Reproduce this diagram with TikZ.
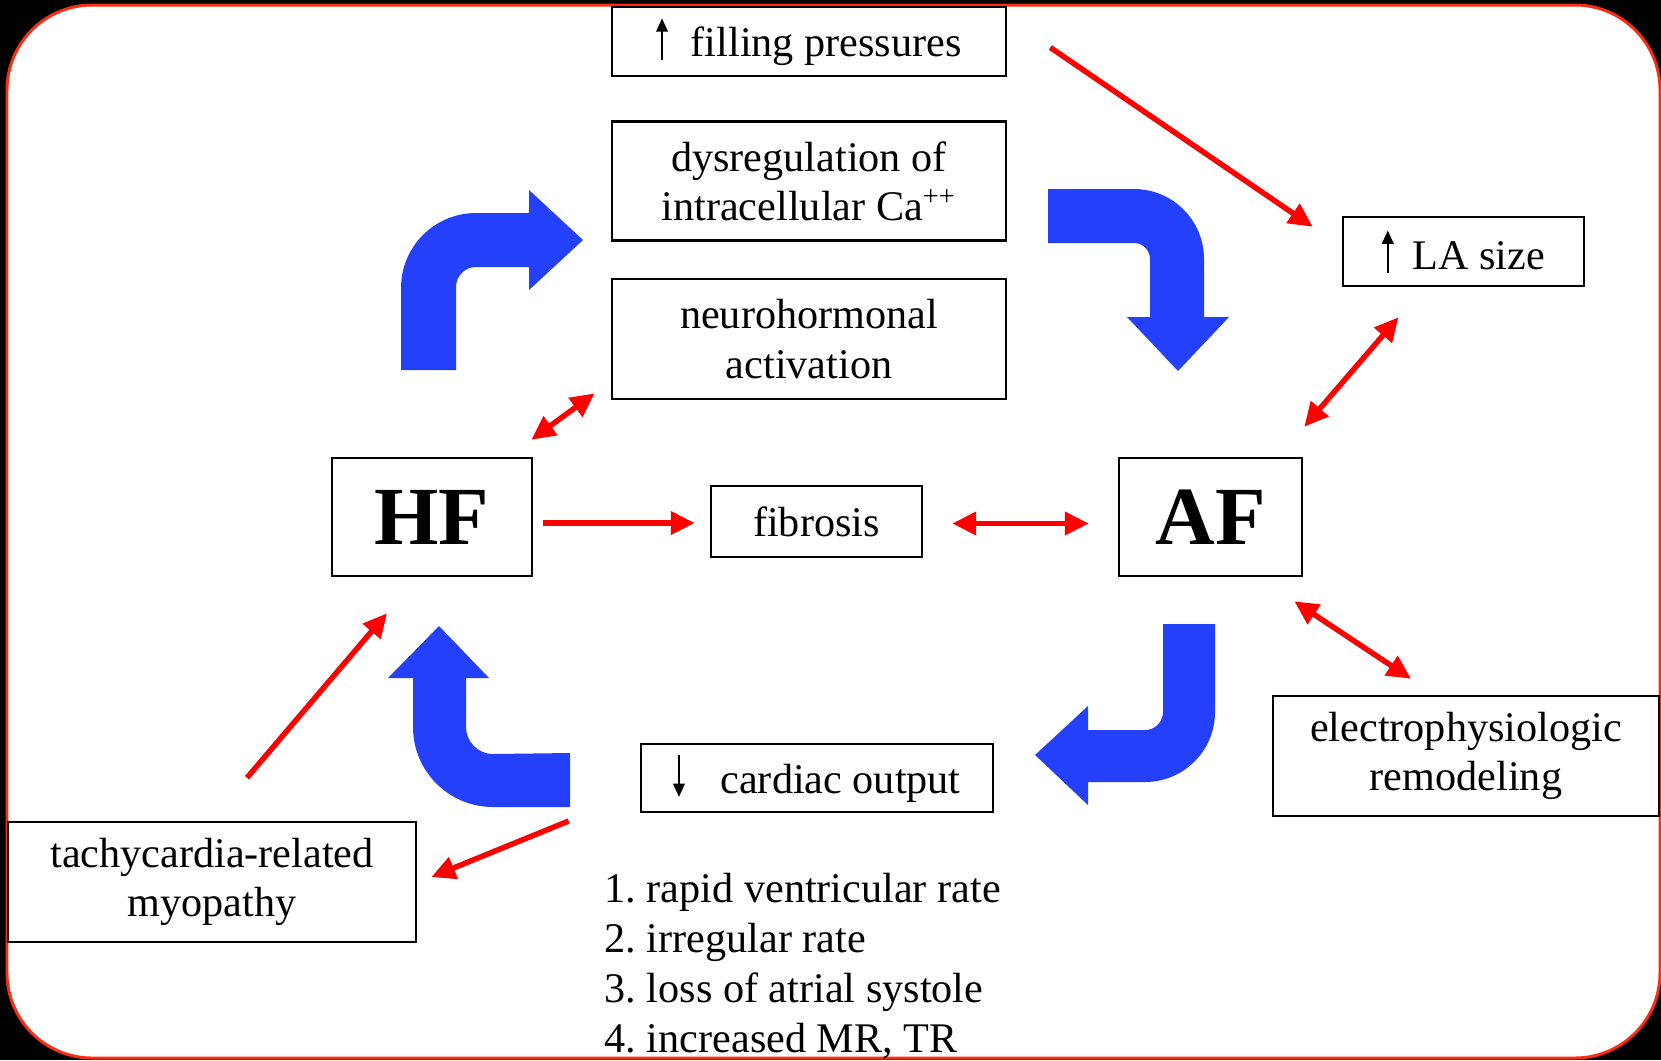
\documentclass[tikz,border=0pt]{standalone}
\usepackage{fontspec}
\setmainfont{Liberation Serif}
\usetikzlibrary{arrows.meta,positioning,calc}
\definecolor{flowblue}{RGB}{36,64,250}
\definecolor{framered}{RGB}{250,45,20}
\newcommand{\uparr}{\tikz[baseline=0pt]\draw[-{Triangle[length=3.8pt,width=3.2pt]}, line width=0.75pt] (0pt,-1pt) -- (0pt,11pt);}
\newcommand{\downarr}{\tikz[baseline=0pt]\draw[-{Triangle[length=3.8pt,width=3.2pt]}, line width=0.75pt] (0pt,11pt) -- (0pt,-1pt);}
\tikzset{
    block/.style={
        draw,
        rectangle,
        line width=0.7pt,
        fill=white,
        align=center,
        inner sep=0pt,
        font=\fontsize{12}{14}\selectfont
    },
    bigblock/.style={
        block,
        font=\fontsize{23.5}{28}\selectfont\bfseries
    },
    link/.style={
        draw=red,
        line width=1.55pt
    },
    turn/.style={
        fill=flowblue
    },
}

\begin{document}
\frenchspacing
\begin{tikzpicture}[x=0.01cm, y=-0.01cm, >={Triangle[length=6.8pt,width=6.4pt]}]
    % frame
    \useasboundingbox (0,0) rectangle (1661,1060);
    \fill[black] (0,0) rectangle (1661,1060);
    \draw[framered, fill=white, line width=0.85pt, rounded corners=0.85cm] (7,5) rectangle (1660,1058);

    % blocks
    \node[block, minimum width=3.94cm, minimum height=0.69cm] (pressure) at (809,41.5) {\uparr\hspace{0.55em}filling pressures};
    \node[block, minimum width=3.94cm, minimum height=1.19cm, below=0.43cm of pressure] (calcium) {dysregulation of\\intracellular Ca\textsuperscript{++}};
    \node[block, minimum width=3.94cm, minimum height=1.20cm, below=0.36cm of calcium] (neuro) {neurohormonal\\activation};
    \node[block, minimum width=2.41cm, minimum height=0.69cm] (lasize) at (1463.5,251.5) {\uparr\hspace{0.45em}LA size};
    \node[bigblock, minimum width=2.00cm, minimum height=1.18cm] (HF) at (432,517) {HF};
    \node[block, minimum width=2.11cm, minimum height=0.71cm] (fib) at (816.5,521.5) {fibrosis};
    \node[bigblock, minimum width=1.83cm, minimum height=1.18cm] (AF) at (1210.5,517) {AF};
    \node[block, minimum width=3.86cm, minimum height=1.20cm] (ephys) at (1466,756) {electrophysiologic\\remodeling};
    \node[block, minimum width=3.52cm, minimum height=0.68cm] (output) at (817,778) {\downarr\hspace{0.85em}cardiac output};
    \node[block, minimum width=4.08cm, minimum height=1.20cm] (tachy) at (212,882) {tachycardia-related\\myopathy};
    \node[anchor=west, align=left, inner sep=0pt, font=\fontsize{12}{14.2}\selectfont] (causes) at (604,966) {1. rapid ventricular rate\\2. irregular rate\\3. loss of atrial systole\\4. increased MR, TR};

    % bent arrows
    \fill[turn] (401,370) -- (401,288) arc[start angle=180, end angle=270, radius=75] -- (529,213) -- (529,190) -- (583,240) -- (529,290) -- (529,267) -- (476,267) arc[start angle=270, end angle=180, radius=20] -- (456,370) -- cycle;
    \fill[turn] (1048,189) -- (1134,189) arc[start angle=270, end angle=360, radius=70] -- (1204,317) -- (1229,317) -- (1178,371) -- (1127,317) -- (1150,317) -- (1150,259) arc[start angle=0, end angle=-90, radius=16] -- (1048,243) -- cycle;
    \fill[turn] (1163,624) -- (1215,624) -- (1215,712) arc[start angle=0, end angle=90, radius=70] -- (1088,782) -- (1088,805) -- (1035,755) -- (1088,706) -- (1088,730) -- (1145,730) arc[start angle=90, end angle=0, radius=18] -- cycle;
    \fill[turn] (570,753) -- (570,807) -- (493,807) arc[start angle=90, end angle=180, radius=80] -- (413,678) -- (388,678) -- (439,626) -- (489,678) -- (466,678) -- (466,727) arc[start angle=180, end angle=90, radius=27] -- cycle;

    % lines
    \draw[link, ->] ($(pressure.east)+(43,6)$) -- ($(lasize.north west)+(-29,11)$);
    \draw[link, <->] ($(lasize.south)+(-65,30)$) -- ($(AF.north east)+(1,-30)$);
    \draw[link, <->] ($(neuro.south west)+(-16,-7)$) -- ($(HF.north east)+(-2,-17)$);
    \draw[link, ->] ($(HF.east)+(10,6)$) -- ($(fib.west |- HF.east)+(-15,6)$);
    \draw[link, <->] ($(fib.east)+(29,2)$) -- ($(AF.west |- fib.east)+(-29,2)$);
    \draw[link, <->] ($(AF.south east)+(-9,24)$) -- ($(ephys.north)+(-55,-16)$);
    \draw[link, ->] ($(output.west)+(-71,43)$) -- ($(tachy.east)+(14,-5)$);
    \draw[link, ->] ($(tachy.north)+(35,-43)$) -- ($(HF.south)+(-45,36)$);
\end{tikzpicture}
\end{document}
